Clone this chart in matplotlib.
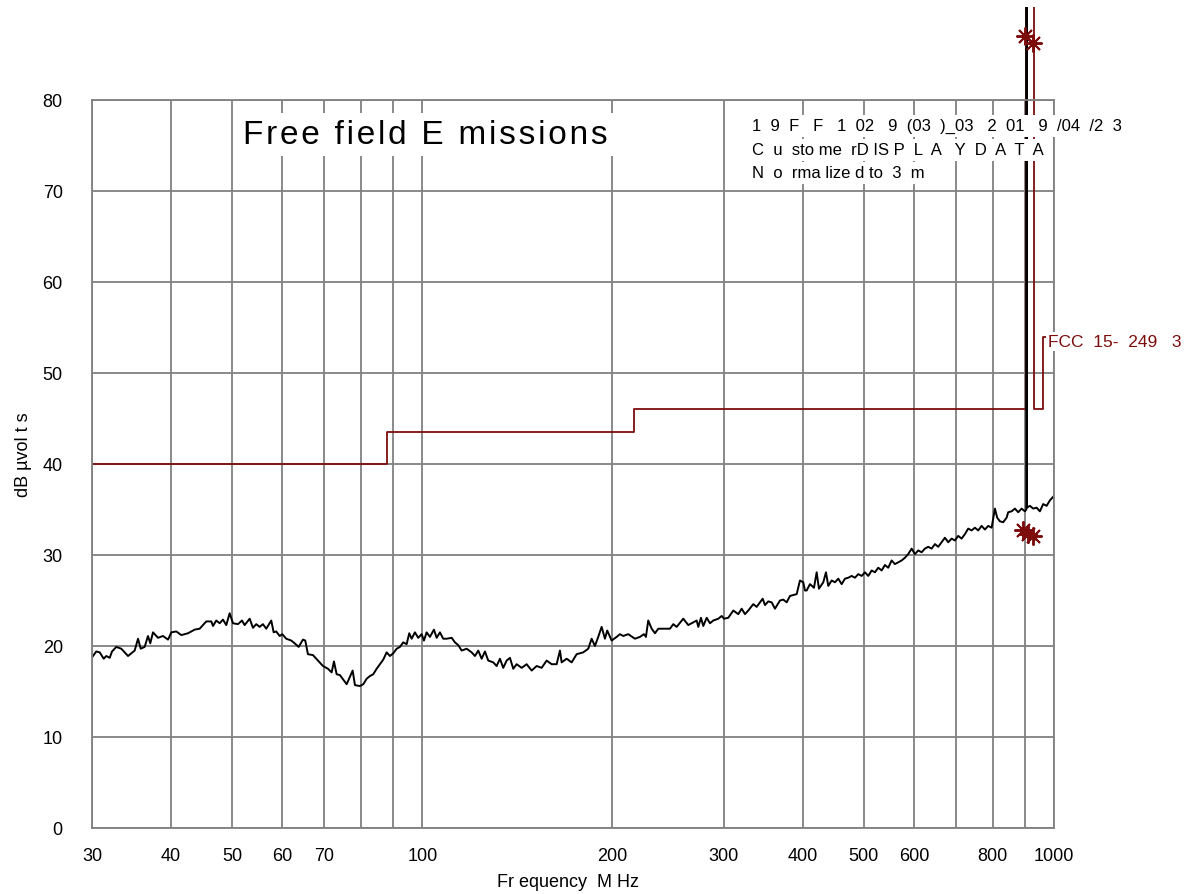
import matplotlib
matplotlib.use("Agg")
import matplotlib.pyplot as plt
from matplotlib.patches import Rectangle
from matplotlib.ticker import NullLocator

plt.rcParams['font.family'] = ['Liberation Sans', 'DejaVu Sans']

# ---- measured trace (MHz, dBuV) ----
freq = [30.0, 30.47, 30.86, 31.31, 31.60, 32.00, 32.27, 32.78, 33.38, 34.21,
        35.05, 35.48, 35.83, 36.35, 36.79, 37.10, 37.47, 38.16, 38.86, 39.58,
        40.06, 40.79, 41.54, 42.57, 43.62, 44.42, 45.50, 46.34, 46.63, 47.19,
        47.78, 48.36, 48.94, 49.55, 50.15, 51.07, 51.82, 52.33, 53.30, 53.94,
        54.59, 55.27, 55.94, 56.62, 57.66, 58.17, 58.72, 59.45, 60.02, 60.90,
        62.02, 62.79, 63.72, 64.72, 65.27, 65.91, 67.13, 68.36, 69.62, 70.90,
        71.86, 72.47, 73.18, 74.07, 75.90, 77.58, 78.23, 79.67, 80.64, 81.64,
        82.63, 83.63, 84.67, 85.70, 86.73, 87.81, 88.88, 89.95, 91.07, 92.17,
        93.29, 94.45, 95.35, 96.19, 97.35, 98.53, 99.76, 100.60, 101.59, 102.82,
        104.33, 105.37, 106.64, 107.93, 109.28, 111.29, 112.63, 114.00, 115.42, 117.54,
        119.71, 121.16, 122.62, 124.15, 125.65, 127.17, 129.51, 131.13, 132.71, 134.32,
        135.99, 137.64, 139.31, 141.04, 143.64, 146.28, 148.97, 151.71, 154.50, 157.34,
        160.24, 163.18, 165.16, 166.18, 169.24, 172.35, 175.52, 179.79, 183.10, 185.38,
        187.62, 189.89, 192.26, 194.59, 196.22, 199.40, 203.07, 205.52, 208.01, 211.84,
        217.07, 221.06, 224.31, 225.95, 227.85, 230.74, 233.54, 236.36, 242.19, 246.65,
        249.63, 252.74, 258.90, 263.66, 268.51, 271.86, 273.46, 276.16, 278.48, 281.95,
        285.36, 288.81, 294.14, 297.80, 300.32, 305.06, 310.67, 316.39, 320.33, 324.21,
        328.13, 334.17, 338.33, 345.80, 348.71, 352.93, 357.32, 361.65, 368.30, 372.77,
        377.41, 381.98, 391.41, 396.14, 400.94, 403.43, 405.94, 410.85, 416.89, 421.01,
        424.55, 431.27, 435.53, 439.19, 444.67, 450.05, 455.49, 461.17, 466.75, 472.40,
        478.28, 484.07, 489.93, 496.03, 502.03, 508.11, 514.44, 520.66, 526.96, 533.53,
        539.98, 546.52, 553.33, 560.02, 566.80, 573.86, 580.81, 587.84, 595.16, 602.36,
        609.65, 617.25, 624.71, 632.27, 640.15, 647.90, 655.74, 663.91, 671.94, 680.08,
        688.55, 696.88, 705.31, 714.10, 722.74, 731.49, 740.60, 749.56, 758.63, 768.08,
        777.38, 786.79, 796.59, 806.22, 813.00, 821.05, 830.97, 841.32, 846.26, 856.80,
        867.17, 877.67, 888.61, 899.35, 904.0, 905.0, 906.0, 915.90, 927.00, 938.55,
        949.90, 961.39, 973.37, 985.14, 1000.0]
level = [18.75, 19.4, 19.3, 18.6, 18.9, 18.7, 19.4, 19.9, 19.7, 18.9,
         19.5, 20.8, 19.7, 19.9, 21.1, 20.3, 21.5, 20.9, 21.1, 20.7,
         21.5, 21.6, 21.2, 21.4, 21.8, 21.9, 22.7, 22.7, 22.2, 22.8,
         22.5, 22.9, 22.3, 23.6, 22.5, 22.4, 22.8, 22.3, 23.0, 22.0,
         22.4, 22.1, 22.4, 21.9, 22.8, 21.5, 21.6, 21.1, 21.3, 20.8,
         20.6, 20.3, 19.9, 20.7, 20.6, 19.1, 19.0, 18.4, 17.8, 17.5,
         17.1, 18.3, 16.9, 16.8, 15.8, 17.3, 15.7, 15.6, 15.8, 16.4,
         16.7, 16.9, 17.5, 18.0, 18.5, 19.3, 18.9, 19.2, 19.7, 19.9,
         20.4, 20.2, 21.4, 20.8, 21.5, 20.9, 21.3, 20.6, 21.5, 21.0,
         21.8, 20.9, 21.5, 20.8, 20.8, 20.9, 20.4, 20.1, 19.5, 19.7,
         19.3, 18.9, 19.5, 18.6, 19.4, 18.4, 18.2, 17.8, 18.6, 17.6,
         18.4, 18.7, 17.5, 18.0, 17.6, 18.0, 17.3, 17.8, 17.6, 18.4,
         18.0, 18.0, 19.5, 18.2, 18.6, 18.2, 19.1, 19.3, 19.7, 20.8,
         20.0, 21.0, 22.1, 20.8, 21.7, 20.6, 21.0, 21.3, 21.1, 21.3,
         20.8, 21.0, 21.3, 21.0, 22.8, 21.9, 21.4, 21.9, 21.9, 21.9,
         22.4, 22.1, 23.0, 22.3, 22.6, 22.8, 22.1, 23.1, 22.2, 23.1,
         22.5, 22.8, 23.0, 23.3, 23.0, 23.1, 23.9, 23.5, 24.1, 23.5,
         23.9, 24.6, 24.3, 25.2, 24.5, 24.9, 24.8, 24.1, 25.0, 25.1,
         24.8, 25.5, 25.7, 27.2, 27.0, 26.1, 26.1, 26.8, 26.4, 28.1,
         26.3, 27.0, 28.1, 26.6, 27.2, 27.0, 27.4, 26.8, 27.4, 27.5,
         27.7, 27.5, 27.9, 27.7, 28.1, 27.7, 28.3, 28.1, 28.6, 28.3,
         28.9, 28.6, 29.4, 29.0, 29.2, 29.4, 29.7, 30.1, 30.7, 30.1,
         30.5, 30.3, 30.7, 30.9, 30.7, 31.2, 30.9, 31.4, 31.9, 31.4,
         31.8, 31.6, 32.1, 31.8, 32.3, 32.9, 32.7, 33.0, 32.7, 33.2,
         32.8, 33.2, 33.0, 35.1, 34.1, 33.7, 33.6, 34.1, 34.7, 34.8,
         35.1, 34.7, 35.1, 34.8, 35.0, 100.0, 35.2, 35.4, 35.1, 35.2,
         34.8, 35.6, 35.4, 36.0, 36.5]

# ---- FCC 15.249 limit (step edges) ----
limit_freq = [30, 88, 216, 902, 928, 960, 1000]
limit_level = [40, 43.5, 46, 94, 46, 54, 54]

# ---- markers ----
peak_freq = [899, 927]
peak_level = [87.0, 86.3]
qp_freq = [893, 909, 927]
qp_level = [32.7, 32.3, 32.1]

xticks = [30, 40, 50, 60, 70, 80, 90, 100, 200, 300, 400, 500, 600, 700, 800, 900, 1000]
xticklabels = ['30', '40', '50', '60', '70', '', '', '100', '200', '300', '400',
               '500', '600', '', '800', '', '1000']
yticks = [0, 10, 20, 30, 40, 50, 60, 70, 80]

title = "Free field E missions"
info_lines = ["1  9  F   F   1  02   9  (03  )_03   2  01   9  /04  /2  3",
              "C  u  sto me  rD IS P  L  A   Y  D  A  T  A",
              "N  o  rma lize d to  3  m"]
limit_label = "FCC  15-  249   3"
xlabel = "Fr equency  M Hz"
ylabel = "dB \u00b5vol t s"

LIMIT_C = '#7d0d0d'
GRID_C = '#808080'

W, H = 1189, 895
fig = plt.figure(figsize=(W / 100, H / 100), dpi=100)
L, R, T, B = 92, 1054, 101, 829
ax = fig.add_axes([L / W, 1 - B / H, (R - L) / W, (B - T) / H])
ax.set_xscale('log')
ax.set_xlim(30, 1000)
ax.set_ylim(0, 80)
ax.set_xticks(xticks)
ax.set_xticklabels(xticklabels)
ax.xaxis.set_minor_locator(NullLocator())
ax.set_yticks(yticks)
ax.grid(True, color=GRID_C, lw=1.3)
ax.tick_params(axis='both', length=0, labelsize=13)
ax.tick_params(axis='x', pad=14)
ax.tick_params(axis='y', pad=21)
for s in ax.spines.values():
    s.set_color(GRID_C)
    s.set_linewidth(1.3)

clip_rect = Rectangle((0, 0), 1, 90.2 / 80, transform=ax.transAxes)

lim_line, = ax.step(limit_freq, limit_level, where='post', color=LIMIT_C, lw=1.3, zorder=2)
lim_line.set_clip_path(clip_rect)
tr_line, = ax.plot(freq, level, color='black', lw=1.4, zorder=2.2)
tr_line.set_clip_path(clip_rect)
ax.plot(peak_freq, peak_level, ls='none', marker=(8, 2, 0), ms=13, mew=1.4,
        color=LIMIT_C, clip_on=False, zorder=2.5)
ax.plot(qp_freq, qp_level, ls='none', marker=(8, 2, 0), ms=13, mew=1.4,
        color=LIMIT_C, clip_on=False, zorder=2.5)

ax.set_xlabel(xlabel, fontsize=13)
ax.xaxis.set_label_coords((568 - L) / (R - L), -(874 - B) / (B - T))
ax.set_ylabel(ylabel, fontsize=13)
ax.yaxis.set_label_coords(-(92 - 32) / (R - L), (B - 455) / (B - T))

ax.text((243 - L) / (R - L), (B - 144) / (B - T), '\u200a'.join(title),
        transform=ax.transAxes,
        fontsize=24, va='baseline', ha='left', zorder=4,
        bbox=dict(facecolor='white', edgecolor='none', pad=4))

for i, line in enumerate(info_lines):
    yb = [131, 155, 178][i]
    ax.text((752 - L) / (R - L), (B - yb) / (B - T), line, transform=ax.transAxes,
            fontsize=12, va='baseline', ha='left', zorder=4, clip_on=False,
            bbox=dict(facecolor='white', edgecolor='none', pad=2.5))

ax.text(980, 54.3, limit_label, fontsize=12.5, color=LIMIT_C, va='top', ha='left',
        zorder=4, clip_on=False,
        bbox=dict(facecolor='white', edgecolor='none', pad=1.5))

fig.savefig('out.png', dpi=100)
